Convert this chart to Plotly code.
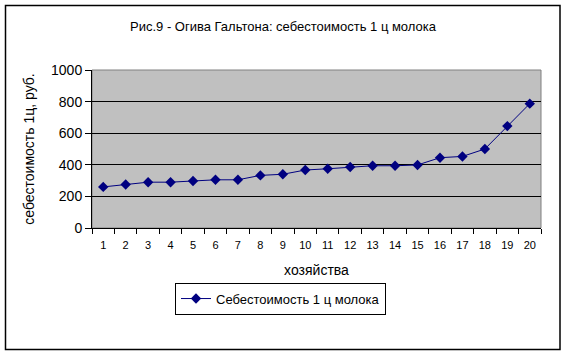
import plotly.graph_objects as go

farms = [str(i) for i in range(1, 21)]
cost = [260, 275, 290, 290, 297, 305, 305, 333, 340, 367, 375, 386, 394, 394, 399, 445, 453, 500, 645, 787]
y_ticks = [0, 200, 400, 600, 800, 1000]

FONT = "Liberation Sans, Arial, sans-serif"
W, H = 566, 355
L, R, T, B = 92, 541, 70, 228.3

def px(x):
    return (x - L) / (R - L)

def py(y):
    return (B - y) / (B - T)

fig = go.Figure()
fig.add_trace(go.Scatter(
    x=farms, y=cost, mode="lines+markers",
    name="Себестоимость 1 ц молока",
    line=dict(color="#000080", width=1),
    marker=dict(symbol="diamond", size=8, color="#000080"),
))

fig.update_layout(
    width=W, height=H,
    margin=dict(l=L, r=W - R, t=T, b=H - B, pad=0),
    paper_bgcolor="white",
    plot_bgcolor="#C0C0C0",
    font=dict(family=FONT, size=13, color="black"),
    title=dict(text="Рис.9 - Огива Гальтона: себестоимость 1 ц молока",
               x=0.5, xref="container", xanchor="center",
               y=1 - 26 / H, yref="container", yanchor="middle",
               font=dict(size=13, family=FONT)),
    showlegend=True,
    legend=dict(x=px(175), y=py(283), xanchor="left", yanchor="top",
                bordercolor="black", borderwidth=1, bgcolor="white",
                font=dict(size=13, family=FONT)),
    xaxis=dict(
        type="category", tickson="boundaries", ticks="outside", ticklen=5,
        tickcolor="black", showline=True, linecolor="black", linewidth=1,
        showgrid=False, tickfont=dict(size=11), tickangle=0,
        ticklabelstandoff=7,
        title=dict(text="хозяйства", font=dict(size=14), standoff=14),
        range=[-0.5, 19.5],
    ),
    yaxis=dict(
        range=[0, 1000], tickvals=y_ticks, ticks="outside", ticklen=6,
        tickcolor="black", showline=True, linecolor="black", linewidth=1,
        showgrid=True, gridcolor="black", gridwidth=1, zeroline=False,
        tickfont=dict(size=14),
        title=dict(text="себестоимость 1ц, руб.", font=dict(size=14), standoff=13),
    ),
    shapes=[
        dict(type="rect", xref="paper", yref="paper", x0=0, x1=1, y0=0, y1=1,
             line=dict(color="#808080", width=1), layer="below"),
        dict(type="rect", xref="paper", yref="paper",
             x0=px(5.5), x1=px(560), y0=py(5.5), y1=py(350),
             line=dict(color="black", width=1.5), layer="below"),
    ],
)

fig.write_html("out.html")
